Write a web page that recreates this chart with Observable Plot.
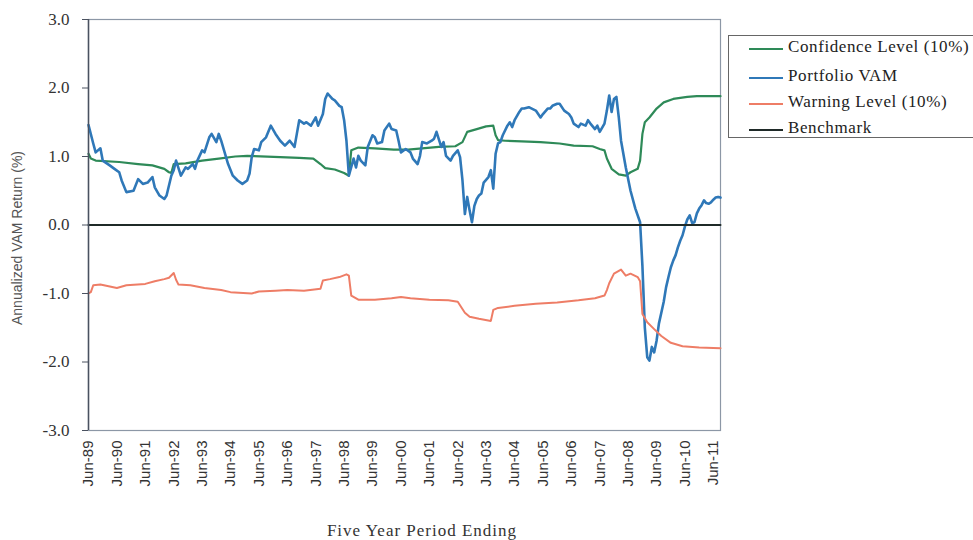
<!DOCTYPE html>
<html><head><meta charset="utf-8">
<script src="https://cdn.jsdelivr.net/npm/d3@7"></script>
<script src="https://cdn.jsdelivr.net/npm/@observablehq/plot@0.6"></script>
<style>
body{margin:0;background:#fff;}
#wrap{position:relative;width:973px;height:540px;overflow:hidden;background:#fff;}
#chart svg g[aria-label="y-axis tick label"]{font-family:"Liberation Serif",serif !important;}
#chart svg g[aria-label="y-axis tick label"] text{font-family:"Liberation Serif",serif !important;}
#chart svg g[aria-label="x-axis tick label"] text{font-family:"Liberation Sans",sans-serif !important;}
#legend{position:absolute;left:728px;top:35px;width:260px;height:103px;border:1px solid #666;box-sizing:border-box;font-family:"Liberation Serif",serif;font-size:17px;letter-spacing:0.6px;color:#222;}
.row{position:absolute;left:0;height:20px;}
.row .sw{position:absolute;left:20px;top:10px;width:34px;height:0;border-top:2px solid;}
.row .lb{position:absolute;left:59px;top:-1px;white-space:nowrap;}
#ytitle{position:absolute;left:17px;top:238px;transform:translate(-50%,-50%) rotate(-90deg);font-family:"Liberation Sans",sans-serif;font-size:14px;color:#555;white-space:nowrap;}
#xtitle{position:absolute;left:422px;top:521px;transform:translateX(-50%);font-family:"Liberation Serif",serif;font-size:17px;letter-spacing:1px;color:#333;white-space:nowrap;}
</style></head>
<body><div id="wrap"><div id="chart"></div>
<div id="legend"></div>
<div id="ytitle">Annualized VAM Return (%)</div>
<div id="xtitle">Five Year Period Ending</div>
</div>
<script>
const seriesNames = ["Confidence Level (10%)", "Portfolio VAM", "Warning Level (10%)", "Benchmark"];
const seriesColors = ["#2e8a58", "#2f78b8", "#ee7d66", "#1f2a28"];
const yTicks = [-3, -2, -1, 0, 1, 2, 3];
const xTickLabels = ["Jun-89","Jun-90","Jun-91","Jun-92","Jun-93","Jun-94","Jun-95","Jun-96","Jun-97","Jun-98","Jun-99","Jun-00","Jun-01","Jun-02","Jun-03","Jun-04","Jun-05","Jun-06","Jun-07","Jun-08","Jun-09","Jun-10","Jun-11"];
const xRange = ["1989-06", "2011-09"];

const vamDates = ["1989-06","1989-08","1989-09","1989-11","1989-12","1990-03","1990-05","1990-07","1990-08","1990-10","1991-01","1991-03","1991-05","1991-07","1991-09","1991-10","1991-12","1992-02","1992-03","1992-05","1992-06","1992-07","1992-09","1992-11","1992-12","1993-02","1993-03","1993-04","1993-06","1993-07","1993-09","1993-10","1993-12","1994-01","1994-02","1994-05","1994-07","1994-09","1994-11","1995-01","1995-02","1995-03","1995-04","1995-06","1995-07","1995-09","1995-11","1996-01","1996-03","1996-05","1996-07","1996-09","1996-10","1996-11","1997-01","1997-02","1997-04","1997-06","1997-07","1997-09","1997-10","1997-11","1998-01","1998-02","1998-04","1998-05","1998-06","1998-07","1998-08","1998-10","1998-11","1998-12","1999-01","1999-03","1999-04","1999-06","1999-07","1999-08","1999-10","1999-11","2000-01","2000-02","2000-04","2000-05","2000-06","2000-08","2000-10","2000-11","2001-01","2001-02","2001-03","2001-05","2001-07","2001-08","2001-09","2001-11","2001-12","2002-01","2002-03","2002-04","2002-06","2002-07","2002-08","2002-09","2002-10","2002-11","2002-12","2003-01","2003-02","2003-03","2003-04","2003-05","2003-07","2003-08","2003-09","2003-10","2003-11","2003-12","2004-01","2004-03","2004-04","2004-05","2004-06","2004-08","2004-09","2004-10","2004-12","2005-03","2005-05","2005-06","2005-08","2005-09","2005-10","2005-12","2006-01","2006-03","2006-05","2006-06","2006-07","2006-09","2006-10","2006-12","2007-01","2007-02","2007-04","2007-05","2007-06","2007-08","2007-09","2007-10","2007-11","2007-12","2008-01","2008-02","2008-03","2008-05","2008-07","2008-09","2008-11","2008-12","2009-01","2009-02","2009-03","2009-04","2009-05","2009-06","2009-07","2009-08","2009-09","2009-10","2009-11","2009-12","2010-01","2010-02","2010-03","2010-04","2010-05","2010-06","2010-07","2010-08","2010-09","2010-10","2010-11","2010-12","2011-01","2011-02","2011-03","2011-04","2011-05","2011-06","2011-07","2011-08","2011-09"];
const vamValues = [1.46,1.19,1.06,1.12,0.94,0.87,0.82,0.77,0.65,0.48,0.50,0.67,0.60,0.62,0.70,0.55,0.43,0.38,0.43,0.72,0.80,0.94,0.72,0.84,0.82,0.89,0.82,0.94,1.09,1.06,1.28,1.33,1.21,1.33,1.23,0.89,0.72,0.65,0.60,0.65,0.75,0.99,1.11,1.09,1.21,1.28,1.45,1.33,1.23,1.16,1.23,1.14,1.33,1.53,1.48,1.50,1.45,1.57,1.45,1.62,1.84,1.92,1.84,1.82,1.74,1.72,1.53,1.23,0.72,0.97,0.84,1.01,0.94,0.87,1.14,1.31,1.28,1.19,1.21,1.38,1.48,1.40,1.38,1.23,1.06,1.11,1.06,0.97,0.89,1.01,1.21,1.19,1.23,1.26,1.36,1.14,1.21,1.01,0.94,1.01,1.09,0.99,0.65,0.16,0.41,0.21,0.04,0.28,0.38,0.43,0.46,0.62,0.70,0.80,0.53,1.04,1.19,1.21,1.31,1.45,1.50,1.43,1.53,1.65,1.70,1.70,1.72,1.67,1.57,1.62,1.70,1.70,1.74,1.77,1.77,1.67,1.62,1.57,1.48,1.43,1.48,1.45,1.53,1.48,1.40,1.45,1.36,1.48,1.67,1.89,1.65,1.84,1.87,1.57,1.23,0.84,0.50,0.24,0.04,-0.60,-1.50,-1.93,-1.98,-1.78,-1.86,-1.69,-1.44,-1.28,-1.12,-0.91,-0.76,-0.62,-0.52,-0.44,-0.33,-0.23,-0.15,-0.02,0.08,0.14,0.03,0.04,0.17,0.24,0.29,0.36,0.32,0.31,0.33,0.37,0.40,0.41,0.40];

const confDates = ["1989-06","1989-07","1989-09","1990-07","1991-03","1991-09","1992-02","1992-04","1992-05","1992-06","1992-11","1993-06","1994-01","1994-08","1995-01","1996-03","1996-11","1997-05","1997-08","1997-10","1998-02","1998-06","1998-08","1998-09","1998-12","1999-07","2000-03","2000-09","2001-10","2002-05","2002-08","2002-10","2003-02","2003-06","2003-09","2003-10","2003-11","2004-02","2004-09","2005-05","2006-01","2006-07","2007-03","2007-06","2007-08","2007-09","2007-11","2008-02","2008-05","2008-07","2008-10","2008-11","2008-12","2009-01","2009-03","2009-06","2009-09","2010-01","2010-07","2010-11","2011-09"];
const confValues = [1.04,0.97,0.94,0.92,0.89,0.87,0.82,0.77,0.76,0.89,0.90,0.94,0.97,1.00,1.01,0.99,0.98,0.97,0.89,0.83,0.81,0.76,0.72,1.09,1.13,1.12,1.10,1.10,1.14,1.15,1.21,1.36,1.40,1.44,1.45,1.31,1.24,1.23,1.22,1.21,1.19,1.16,1.15,1.11,1.09,0.97,0.82,0.74,0.72,0.77,0.82,0.94,1.33,1.50,1.57,1.70,1.79,1.84,1.87,1.88,1.88];

const warnDates = ["1989-06","1989-07","1989-08","1989-11","1990-06","1990-10","1991-06","1991-10","1992-02","1992-04","1992-06","1992-07","1992-08","1993-01","1993-07","1994-02","1994-06","1995-03","1995-06","1996-01","1996-06","1997-01","1997-08","1997-09","1997-12","1998-04","1998-07","1998-08","1998-09","1998-12","1999-07","2000-02","2000-06","2000-10","2001-06","2002-02","2002-06","2002-09","2002-11","2003-03","2003-08","2003-09","2003-11","2004-06","2005-03","2005-12","2006-09","2007-04","2007-08","2007-09","2007-10","2007-12","2008-03","2008-05","2008-07","2008-10","2008-11","2008-12","2009-02","2009-05","2009-08","2009-12","2010-05","2010-12","2011-09"];
const warnValues = [-1.00,-0.98,-0.88,-0.87,-0.92,-0.88,-0.86,-0.82,-0.79,-0.77,-0.70,-0.80,-0.87,-0.88,-0.92,-0.95,-0.98,-1.00,-0.97,-0.96,-0.95,-0.96,-0.93,-0.81,-0.79,-0.76,-0.72,-0.74,-1.03,-1.09,-1.09,-1.07,-1.05,-1.07,-1.09,-1.10,-1.12,-1.28,-1.34,-1.37,-1.40,-1.24,-1.21,-1.18,-1.15,-1.13,-1.10,-1.07,-1.03,-0.95,-0.85,-0.71,-0.65,-0.74,-0.71,-0.76,-0.82,-1.30,-1.42,-1.52,-1.62,-1.72,-1.77,-1.79,-1.80];

const benchDates = ["1989-06", "2011-09"];
const benchValues = [0, 0];

const parse = d3.utcParse("%Y-%m");
const mon = {Jan:0,Feb:1,Mar:2,Apr:3,May:4,Jun:5,Jul:6,Aug:7,Sep:8,Oct:9,Nov:10,Dec:11};
const tickDates = xTickLabels.map(s => { const [m, y] = s.split("-"); const yy = +y < 50 ? 2000 + +y : 1900 + +y; return new Date(Date.UTC(yy, mon[m], 1)); });
const labelFor = new Map(tickDates.map((d, i) => [+d, xTickLabels[i]]));

const build = (dates, values) => dates.map((d, i) => ({date: parse(d), value: values[i]}));
const conf = build(confDates, confValues);
const vam = build(vamDates, vamValues);
const warn = build(warnDates, warnValues);
const bench = build(benchDates, benchValues);

const chart = Plot.plot({
  width: 973, height: 540,
  marginLeft: 88, marginRight: 253, marginTop: 19, marginBottom: 110,
  style: {fontFamily: "Liberation Serif, serif", fontSize: "17px", color: "#333", background: "white"},
  x: {type: "utc", domain: xRange.map(parse)},
  y: {domain: [-3, 3]},
  marks: [
    Plot.frame({stroke: "#8c97a6", strokeWidth: 1.2}),
    Plot.line(conf, {x: "date", y: "value", stroke: seriesColors[0], strokeWidth: 2.2}),
    Plot.line(vam, {x: "date", y: "value", stroke: seriesColors[1], strokeWidth: 2.6}),
    Plot.line(warn, {x: "date", y: "value", stroke: seriesColors[2], strokeWidth: 2}),
    Plot.line(bench, {x: "date", y: "value", stroke: seriesColors[3], strokeWidth: 2}),
    Plot.ruleX([xRange.map(parse)[0]], {stroke: "#4a5260", strokeWidth: 1.5}),
    Plot.axisY({ticks: yTicks, tickFormat: d => d.toFixed(1), tickSize: 6, tickPadding: 13, label: null, stroke: "#4a5260", fontSize: 17, fontFamily: "Liberation Serif, serif", fill: "#333"}),
    Plot.axisX({ticks: tickDates, tickFormat: d => labelFor.get(+d), tickRotate: -90, tickSize: 0, tickPadding: 10, label: null, fontSize: 15, fontFamily: "Liberation Sans, sans-serif", fill: "#333"})
  ]
});
document.getElementById("chart").appendChild(chart);

const legend = document.getElementById("legend");
const rowTops = [2, 31, 57, 83];
seriesNames.forEach((name, i) => {
  const r = document.createElement("div");
  r.className = "row";
  r.style.top = rowTops[i] + "px";
  r.innerHTML = `<div class="sw" style="border-color:${seriesColors[i]}"></div><div class="lb">${name}</div>`;
  legend.appendChild(r);
});
</script></body></html>
